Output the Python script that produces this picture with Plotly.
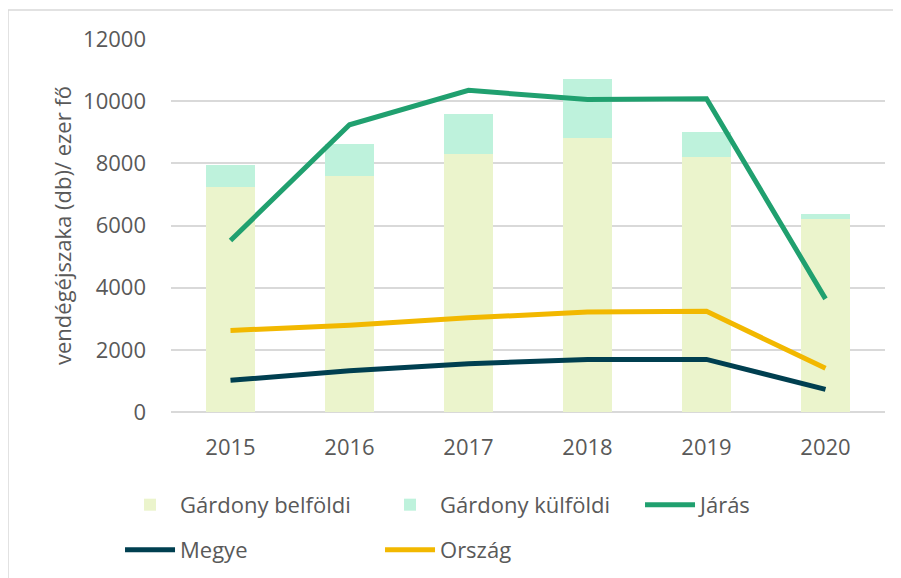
import plotly.graph_objects as go

years = ["2015", "2016", "2017", "2018", "2019", "2020"]
belfoldi = [7250, 7600, 8310, 8800, 8220, 6210]
kulfoldi = [710, 1030, 1280, 1920, 800, 160]
jaras = [5520, 9240, 10350, 10050, 10080, 3640]
megye = [1020, 1330, 1555, 1685, 1693, 730]
orszag = [2625, 2790, 3030, 3215, 3238, 1405]
ytick_vals = [0, 2000, 4000, 6000, 8000, 10000, 12000]

font_family = "Open Sans, Noto Sans, sans-serif"
txt = "#595959"
fs = 22

fig = go.Figure()
fig.add_trace(go.Bar(x=years, y=belfoldi, name="Gárdony belföldi",
                     marker=dict(color="#EBF4CC", line=dict(width=0)), legend="legend"))
fig.add_trace(go.Bar(x=years, y=kulfoldi, name="Gárdony külföldi",
                     marker=dict(color="#BEF2DC", line=dict(width=0)), legend="legend"))
fig.add_trace(go.Scatter(x=years, y=jaras, name="Járás", mode="lines",
                         line=dict(color="#20A06F", width=5), legend="legend"))
fig.add_trace(go.Scatter(x=years, y=megye, name="Megye", mode="lines",
                         line=dict(color="#003F50", width=5), legend="legend2"))
fig.add_trace(go.Scatter(x=years, y=orszag, name="Ország", mode="lines",
                         line=dict(color="#F2B800", width=5), legend="legend2"))

legend_common = dict(orientation="h", xanchor="left", yanchor="middle",
                     font=dict(family=font_family, size=fs, color=txt),
                     entrywidth=195, entrywidthmode="pixels", itemwidth=50,
                     traceorder="normal", bgcolor="rgba(0,0,0,0)")

fig.update_layout(
    width=893, height=570,
    barmode="stack", bargap=0.58,
    paper_bgcolor="white", plot_bgcolor="white",
    margin=dict(l=163, r=16, t=31, b=166, autoexpand=False),
    font=dict(family=font_family, size=fs, color=txt),
    showlegend=True,
    legend=dict(x=-0.0714, y=-0.249, **legend_common),
    legend2=dict(x=-0.0714, y=-0.37, **legend_common),
    xaxis=dict(showgrid=False, showline=False, zeroline=False, automargin=False,
               tickfont=dict(size=fs, color=txt), ticks="", ticklabelstandoff=20),
    yaxis=dict(range=[0, 12000], tickvals=ytick_vals, tickformat="d",
               showgrid=True, gridcolor="#D9D9D9", gridwidth=1.5, automargin=False,
               zeroline=True, zerolinecolor="#D9D9D9", zerolinewidth=1.5,
               showline=False, ticks="", ticklabelstandoff=24,
               tickfont=dict(size=fs, color=txt),
               title=dict(text="vendégéjszaka (db)/ ezer fő", standoff=5,
                          font=dict(size=fs, color=txt))),
    shapes=[dict(type="rect", xref="paper", yref="paper",
                 x0=-163 / 714, x1=1.05, y0=-0.6, y1=(404 - 2) / 373,
                 line=dict(color="#D9D9D9", width=1.5), layer="below")],
)

fig.write_html("out.html")
